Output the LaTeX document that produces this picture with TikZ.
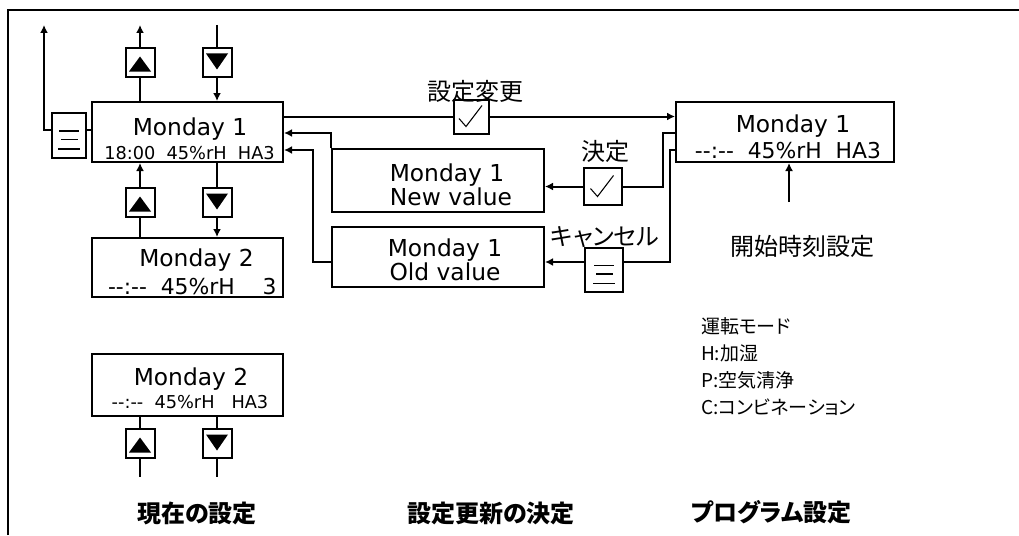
\documentclass[tikz,border=0pt]{standalone}
\usepackage{fontspec}
\setmainfont{DejaVu Sans}
\newfontfamily\jp[RawFeature=+palt]{Noto Sans CJK JP}
\usetikzlibrary{arrows.meta,calc}

\begin{document}
\begin{tikzpicture}[x=0.75pt, y=-0.75pt, line width=1.5pt,
	>={Latex[length=6pt,width=6pt]},
	lcd/.style={draw, inner sep=0, minimum width=143.25pt, minimum height=45pt},
	btn/.style={draw, fill=white, inner sep=0, minimum width=21.75pt, minimum height=21.75pt},
	upkey/.style={btn, path picture={\fill[black] ($(path picture bounding box.center)+(-11,9)$) -- ++(22,0) -- ++(-11,-15) -- cycle;}},
	downkey/.style={btn, path picture={\fill[black] ($(path picture bounding box.center)+(-11,-9)$) -- ++(22,0) -- ++(-11,16) -- cycle;}},
	okkey/.style={btn, path picture={\draw[line width=0.8pt] ($(path picture bounding box.center)+(-12.5,2)$) -- ++(7,8) -- ++(16,-21);}},
	menukey/.style={btn, path picture={
		\draw[line width=1.1pt] ($(path picture bounding box.center)+(-10,-4.5)$) -- ++(20,0);
		\draw[line width=1.1pt] ($(path picture bounding box.center)+(-8,4)$) -- ++(17,0);
		\draw[line width=1.1pt] ($(path picture bounding box.center)+(-11,13.5)$) -- ++(22,0);}},
	big/.style={font=\fontsize{17.5}{20}\selectfont, inner sep=0, anchor=base},
	mid/.style={font=\fontsize{16.4}{19}\selectfont, inner sep=0, anchor=base},
	sml/.style={font=\fontsize{13.3}{16}\selectfont, inner sep=0, anchor=base},
	jtxt/.style={font=\jp\fontsize{18}{20}\selectfont, inner sep=0},
	jleg/.style={font=\jp\fontsize{14.25}{20.25}\selectfont, inner sep=0, align=left, anchor=north west},
	jhead/.style={font=\jp\bfseries\fontsize{18}{20}\selectfont, inner sep=0}]
	\useasboundingbox (0,0) rectangle (1019,535);
	\draw (8,535) -- (8,10) -- (1019,10);

	% current setting column
	\node (main) at (187.5,132)	[lcd]	{};
	\node (menu) at (69,135.5)	[menukey, minimum width=25.5pt, minimum height=33.75pt]	{};
	\node (up1) at (140,62.5)	[upkey]	{};
	\node (dn1) at (217,62.5)	[downkey]	{};
	\node (up2) at (140,202.5)	[upkey]	{};
	\node (dn2) at (217,202.5)	[downkey]	{};
	\node (mon2) at (187.5,267.5)	[lcd, minimum height=44.25pt]	{};
	\node (mon3) at (187.5,385)	[lcd, minimum height=46.5pt]	{};
	\node (up3) at (140,443.5)	[upkey]	{};
	\node (dn3) at (217,443.5)	[downkey]	{};

	% decision column
	\node (newv) at (438,180.5)	[lcd, minimum width=159pt, minimum height=47.25pt]	{};
	\node (oldv) at (438,257)	[lcd, minimum width=159pt]	{};
	\node (chg) at (471.5,116.5)	[okkey, minimum width=26.25pt, minimum height=25.5pt]	{};
	\node (dec) at (603,186.5)	[okkey, minimum width=28.5pt, minimum height=27.75pt]	{};
	\node (can) at (604,270)	[menukey, minimum width=28.5pt, minimum height=33pt]	{};

	% program column
	\node (rbox) at (785,132)	[lcd, minimum width=163.5pt]	{};

	% texts
	\node (t1a) at (190,135)	[big]	{Monday 1};
	\node (t1b) at (189.5,159)	[sml]	{18:00~~45\%rH~~HA3};
	\node (t2a) at (196.5,266.7)	[big]	{Monday 2};
	\node (t2b) at (107,294.3)	[mid, anchor=base west]	{-{}-:-{}-~~45\%rH~~~~3};
	\node (t3a) at (191,385.7)	[big]	{Monday 2};
	\node (t3b) at (190,408.3)	[sml]	{-{}-:-{}-~~45\%rH~~~HA3};
	\node (t4a) at (793,132.7)	[big]	{Monday 1};
	\node (t4b) at (788,158.3)	[mid]	{-{}-:-{}-~~45\%rH~~HA3};
	\node (t5a) at (447,181.7)	[big]	{Monday 1};
	\node (t5b) at (451,205)	[big]	{New value};
	\node (t6a) at (445,256.7)	[big]	{Monday 1};
	\node (t6b) at (445,280)	[big]	{Old value};

	\node (chglab) at (475,91)	[jtxt]	{設定変更};
	\node (declab) at (605,151.7)	[jtxt]	{決定};
	\node (canlab) at (605,236.7)	[jtxt]	{キャンセル};
	\node (stlab) at (802,246.7)	[jtxt]	{開始時刻設定};
	\node (legend) at (700,317)	[jleg]	{運転モード\\H:加湿\\P:空気清浄\\C:コンビネーション};
	\node (head1) at (197,513)	[jhead]	{現在の設定};
	\node (head2) at (491,513)	[jhead]	{設定更新の決定};
	\node (head3) at (771,512)	[jhead]	{プログラム設定};

	% connectors
	\coordinate (mrow) at (0,130);
	\coordinate (menutop) at (44,25);
	\coordinate (up1top) at (140,25);
	\coordinate (dn1top) at (217,25);
	\coordinate (bot) at (0,477);
	\coordinate (oldrow) at (0,262);
	\coordinate (oldbend) at (313,150);
	\coordinate (decbend) at (663,133);
	\coordinate (canbend) at (670,150);
	\coordinate (startpt) at (789,202);

	\draw[->] (menu.west |- mrow) -| (menutop);
	\draw (menu.east |- mrow) -- (main.west |- mrow);
	\draw[->] (up1) -- (up1top);
	\draw (up1 |- main.north) -- (up1);
	\draw (dn1top) -- (dn1);
	\draw[->] (dn1) -- (dn1 |- main.north);
	\draw[->] (up2) -- (up2 |- main.south);
	\draw (up2) -- (up2 |- mon2.north);
	\draw (dn2 |- main.south) -- (dn2);
	\draw[->] (dn2) -- (dn2 |- mon2.north);
	\draw (up3 |- mon3.south) -- (up3);
	\draw (up3) -- (up3 |- bot);
	\draw (dn3 |- mon3.south) -- (dn3);
	\draw (dn3) -- (dn3 |- bot);

	\draw (main.east |- chg) -- (chg);
	\draw[->] (chg) -- (rbox.west |- chg);
	\draw[->] (newv.north west) |- (main.east |- 0,133);
	\draw[->] (oldv.west |- oldrow) -| (oldbend) -- (oldbend -| main.east);
	\draw (rbox.west |- decbend) -- (decbend) |- (dec);
	\draw[->] (dec) -- (dec -| newv.east);
	\draw (rbox.west |- canbend) -- (canbend) |- (can.east |- oldrow);
	\draw[->] (can.west |- oldrow) -- (oldrow -| oldv.east);
	\draw[->] (startpt) -- (startpt |- rbox.south);
\end{tikzpicture}
\end{document}
